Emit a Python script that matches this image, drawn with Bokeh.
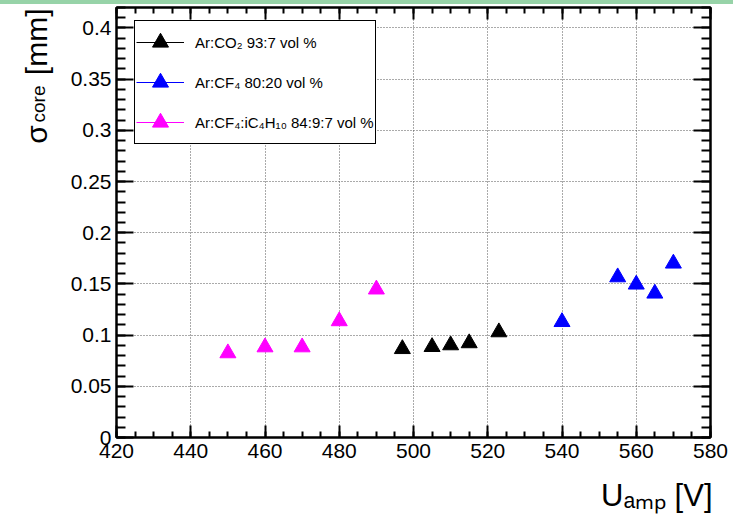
import math
import numpy as np
from bokeh.plotting import figure
from bokeh.models import (ColumnDataSource, Label, Legend, LegendItem, LinearAxis,
                          FixedTicker, Range1d, Div, CustomJSTickFormatter)
from bokeh.layouts import column
from bokeh.embed import file_html
from bokeh.resources import INLINE

# ---------------- data ----------------
u_arco2 = [497, 505, 510, 515, 523]
s_arco2 = [0.0865, 0.0885, 0.0902, 0.0922, 0.1029]

u_arcf4 = [540, 555, 560, 565, 570]
s_arcf4 = [0.1129, 0.1566, 0.1495, 0.1407, 0.1700]

u_arcf4ic4h10 = [450, 460, 470, 480, 490]
s_arcf4ic4h10 = [0.0824, 0.0882, 0.0882, 0.1137, 0.1447]

series_labels = ["Ar:CO\u2082 93:7 vol %", "Ar:CF\u2084 80:20 vol %",
                 "Ar:CF\u2084:iC\u2084H\u2081\u2080 84:9:7 vol %"]
series_colors = ["#000000", "#0000ff", "#ff00ff"]

x_ticks = [420, 440, 460, 480, 500, 520, 540, 560, 580]
x_tick_labels = ["420", "440", "460", "480", "500", "520", "540", "560", "580"]
y_ticks = [0, 0.05, 0.1, 0.15, 0.2, 0.25, 0.3, 0.35, 0.4]
y_tick_labels = ["0", "0.05", "0.1", "0.15", "0.2", "0.25", "0.3", "0.35", "0.4"]

x_title = "U\u2090\u2098\u209a [V]"
y_title_main = "\u03c3" + "\u00a0" * 6 + "[mm]"   # gap (no-break spaces) holds the subscript
y_title_sub = "core"

FONT = "Liberation Sans"

p = figure(width=733, height=510, x_range=Range1d(420, 580), y_range=Range1d(0, 0.42),
           output_backend="svg", toolbar_location=None, title=None,
           min_border_left=116, min_border_right=23, min_border_top=3, min_border_bottom=77)
p.background_fill_color = "white"
p.border_fill_color = "white"
p.outline_line_color = "black"
p.outline_line_width = 2

x_minor = list(np.arange(420, 581, 5))
y_minor = [round(v, 3) for v in np.arange(0, 0.421, 0.01)]
xt = FixedTicker(ticks=x_ticks, minor_ticks=x_minor)
yt = FixedTicker(ticks=y_ticks, minor_ticks=y_minor)


def style_axis(ax, major_in, minor_in):
    ax.axis_line_width = 2
    ax.axis_line_color = "black"
    ax.major_tick_in = major_in
    ax.major_tick_out = 0
    ax.minor_tick_in = minor_in
    ax.minor_tick_out = 0
    ax.major_tick_line_width = 2
    ax.minor_tick_line_width = 2
    ax.major_tick_line_color = "black"
    ax.minor_tick_line_color = "black"
    ax.major_label_text_font = FONT
    ax.major_label_text_font_size = "21px"
    ax.major_label_text_color = "black"
    ax.axis_label = None


xa = p.xaxis[0]
xa.ticker = xt
xa.major_label_overrides = dict(zip(x_ticks, x_tick_labels))
style_axis(xa, 12, 6)
xa.major_label_standoff = 6

ya = p.yaxis[0]
ya.ticker = yt
ya.major_label_overrides = dict(zip(y_ticks, y_tick_labels))
style_axis(ya, 17, 9)
ya.major_label_standoff = 5

empty = CustomJSTickFormatter(code="return ''")
top = LinearAxis(ticker=xt, formatter=empty)
style_axis(top, 12, 6)
top.major_label_standoff = 0
top.major_label_text_font_size = "1px"
p.add_layout(top, "above")

right = LinearAxis(ticker=yt, formatter=empty)
style_axis(right, 17, 9)
right.major_label_standoff = 0
right.major_label_text_font_size = "1px"
p.add_layout(right, "right")

for g, t in ((p.xgrid[0], xt), (p.ygrid[0], yt)):
    g.ticker = t
    g.grid_line_color = "#555555"
    g.grid_line_dash = "1 2"
    g.grid_line_width = 1

items = []
for u, s, lab_, col in ((u_arco2, s_arco2, series_labels[0], series_colors[0]),
                        (u_arcf4, s_arcf4, series_labels[1], series_colors[1]),
                        (u_arcf4ic4h10, s_arcf4ic4h10, series_labels[2], series_colors[2])):
    src = ColumnDataSource(dict(x=u, y=s, gap=[float("nan")] * len(u)))
    sr = p.scatter("x", "y", source=src, marker="triangle", size=16,
                   fill_color=col, line_color=col)
    # line through NaN values: draws nothing, only its legend sample is shown
    lr = p.line("x", "gap", source=src, line_color=col, line_width=1)
    items.append(LegendItem(label=lab_, renderers=[lr, sr]))

legend = Legend(items=items, location=(18, 293))
legend.border_line_color = "black"
legend.border_line_alpha = 1
legend.border_line_width = 1
legend.background_fill_color = "white"
legend.background_fill_alpha = 1
legend.label_text_font = FONT
legend.label_text_font_size = "15px"
legend.label_text_color = "black"
legend.label_standoff = 11
legend.glyph_width = 48
legend.glyph_height = 40
legend.label_height = 40
legend.spacing = 0
legend.padding = 1
legend.margin = 0
p.add_layout(legend)


# axis titles as real text, placed in the side panels (canvas pixel units)
def lab(side, text, x, y, size, align="left", angle=0.0):
    p.add_layout(Label(x=x, y=y, x_units="canvas", y_units="canvas", text=text,
                       text_font=FONT, text_font_size=size, text_color="black",
                       text_align=align, text_baseline="alphabetic", angle=angle), side)

lab("below", x_title, 712, 491, "31px", align="right")
lab("left", y_title_main, 36, 4, "30px", align="right", angle=math.pi / 2)
lab("left", y_title_sub, 38, 118, "19px", angle=math.pi / 2)

band = Div(text="", width=733, height=4, margin=(0, 0, 0, 0),
           styles={"background-color": "#97d3a8"})
p.margin = (0, 0, 0, 0)
layout = column(band, p, spacing=0)

open("out.html", "w").write(file_html(layout, INLINE))
